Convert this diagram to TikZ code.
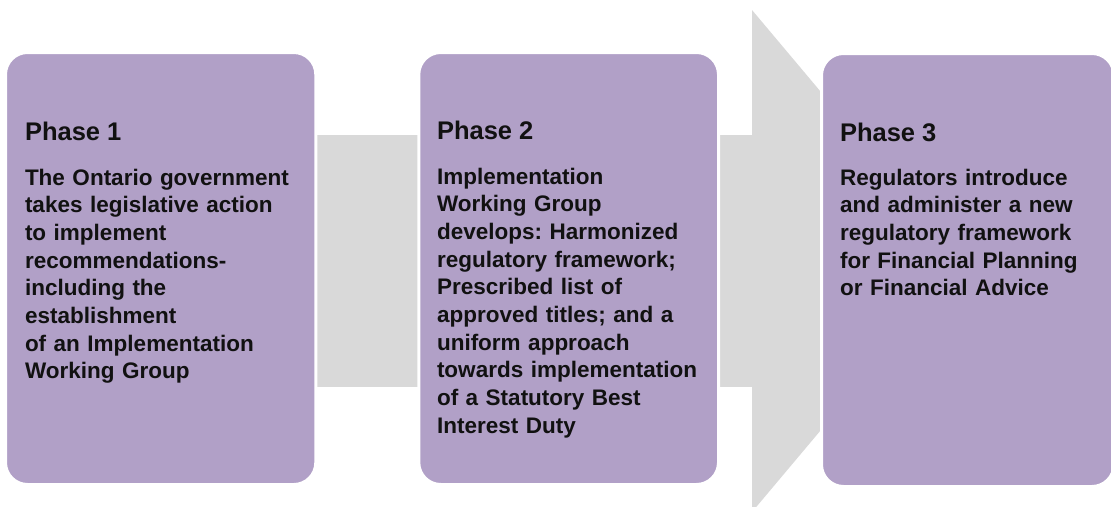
\documentclass[tikz,border=0pt]{standalone}
\usepackage{fontspec}
\setmainfont{Liberation Sans}
\frenchspacing
\newcommand*{\headfont}{\bfseries\fontsize{25.5}{30}\selectfont}
\newcommand*{\bodyfont}{\bfseries\fontsize{22.5}{27.7}\selectfont}
\definecolor{P}{HTML}{B1A0C7}
\definecolor{G}{HTML}{D9D9D9}
\definecolor{K}{HTML}{111111}
\usetikzlibrary{arrows}
\usetikzlibrary{positioning}
\tikzstyle{base}=[x=1pt, y=-1pt, inner sep=0pt, outer sep=0pt]
\tikzstyle{phase}=[rectangle, rounded corners=22pt, draw=white, line width=3pt, fill=P]
\tikzstyle{head}=[anchor=base west, K, font=\headfont]
\tikzstyle{body}=[anchor=base west, K, font=\bodyfont, text width=275pt, align=left]

\begin{document}
\begin{tikzpicture}[base]
    \path [use as bounding box] (0,0) rectangle (1111,506);
    \clip (0,0) rectangle (1111,506);
        \fill [G] (20,135) rectangle (752,387);
        \fill [G] (752,10) -- (963,261) -- (752,512) -- cycle;
        \node [phase, minimum width=310.3pt, minimum height=432pt] (p1) at (160.65,268.5) {};
        \node [phase, minimum width=299.7pt, minimum height=432pt] (p2) at (568.65,268.5) {};
        \node [phase, minimum width=292.5pt, minimum height=433pt] (p3) at (967.75,270) {};
        \node [head] (h1) at (25,140) {Phase 1};
        \node [head] (h2) at (437,139) {Phase 2};
        \node [head] (h3) at (840,141) {Phase 3};
        \node [body] (t1) at (25,185) {The Ontario government\\takes legislative action\\to implement\\recommendations-\\including the\\establishment\\of an Implementation\\Working Group};
        \node [body] (t2) at (437,184) {Implementation\\Working Group\\develops: Harmonized\\regulatory framework;\\Prescribed list of\\approved titles; and a\\uniform approach\\towards implementation\\of a Statutory Best\\Interest Duty};
        \node [body] (t3) at (840,185) {Regulators introduce\\and administer a new\\regulatory framework\\for Financial Planning\\or Financial Advice};
    \end{tikzpicture}
\end{document}
